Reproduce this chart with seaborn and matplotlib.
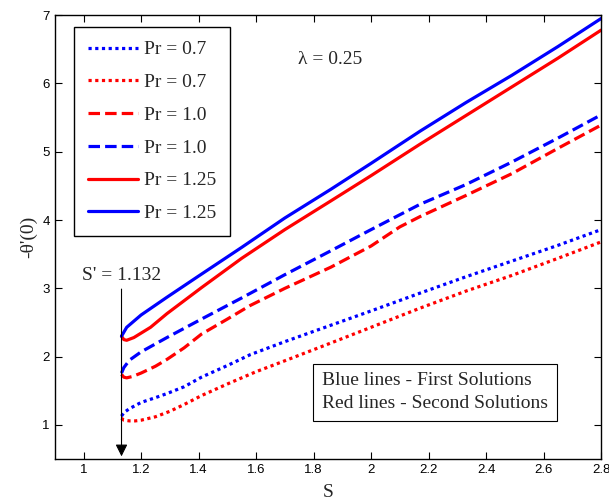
import matplotlib
matplotlib.use("Agg")
import matplotlib.pyplot as plt
import pandas as pd
import seaborn as sns

# readings (S, -theta'(0))
s_b07 = [1.132, 1.14, 1.16, 1.2, 1.25, 1.29, 1.35, 1.41, 1.5, 1.58, 1.7, 1.86, 2.0, 2.17, 2.33, 2.49, 2.65, 2.8]
v_b07 = [1.13, 1.18, 1.24, 1.33, 1.40, 1.46, 1.56, 1.70, 1.87, 2.03, 2.22, 2.46, 2.67, 2.93, 3.17, 3.40, 3.63, 3.86]

s_r07 = [1.132, 1.14, 1.16, 1.18, 1.2, 1.25, 1.3, 1.35, 1.41, 1.5, 1.6, 1.7, 1.86, 2.0, 2.17, 2.33, 2.49, 2.65, 2.8]
v_r07 = [1.10, 1.07, 1.06, 1.06, 1.07, 1.12, 1.20, 1.30, 1.43, 1.60, 1.78, 1.94, 2.20, 2.43, 2.71, 2.96, 3.19, 3.44, 3.68]

s_b10 = [1.132, 1.14, 1.16, 1.2, 1.29, 1.41, 1.55, 1.7, 1.86, 2.0, 2.17, 2.33, 2.49, 2.65, 2.8]
v_b10 = [1.76, 1.84, 1.95, 2.07, 2.28, 2.55, 2.86, 3.20, 3.55, 3.86, 4.23, 4.52, 4.85, 5.20, 5.54]

s_r10 = [1.132, 1.14, 1.15, 1.17, 1.2, 1.25, 1.29, 1.35, 1.41, 1.5, 1.58, 1.7, 1.86, 2.0, 2.1, 2.17, 2.33, 2.49, 2.65, 2.8]
v_r10 = [1.74, 1.70, 1.69, 1.71, 1.76, 1.86, 1.96, 2.13, 2.33, 2.55, 2.75, 3.00, 3.31, 3.62, 3.90, 4.05, 4.36, 4.68, 5.05, 5.39]

s_b125 = [1.132, 1.15, 1.2, 1.29, 1.4, 1.55, 1.7, 1.86, 2.0, 2.17, 2.33, 2.49, 2.65, 2.8]
v_b125 = [2.30, 2.43, 2.61, 2.87, 3.18, 3.60, 4.03, 4.45, 4.83, 5.30, 5.72, 6.12, 6.54, 6.95]

s_r125 = [1.132, 1.14, 1.15, 1.175, 1.233, 1.29, 1.41, 1.55, 1.7, 1.86, 2.0, 2.17, 2.33, 2.49, 2.65, 2.8]
v_r125 = [2.30, 2.25, 2.24, 2.28, 2.43, 2.63, 3.01, 3.44, 3.86, 4.28, 4.65, 5.11, 5.53, 5.95, 6.37, 6.78]

x_ticks = [1, 1.2, 1.4, 1.6, 1.8, 2, 2.2, 2.4, 2.6, 2.8]
x_labels = ["1", "1.2", "1.4", "1.6", "1.8", "2", "2.2", "2.4", "2.6", "2.8"]
y_ticks = [1, 2, 3, 4, 5, 6, 7]
s_crit = 1.132

sns.set_theme(style="ticks")
plt.rcParams["font.family"] = ["Liberation Sans", "DejaVu Sans"]

serif = ["Liberation Serif", "DejaVu Serif"]
dot = (0, (1, 1.1))
dash = (0, (3.6, 1.6))
series = [
    (s_b07, v_b07, "blue", dot, "Pr = 0.7"),
    (s_r07, v_r07, "red", dot, "Pr = 0.7"),
    (s_r10, v_r10, "red", dash, "Pr = 1.0"),
    (s_b10, v_b10, "blue", dash, "Pr = 1.0"),
    (s_r125, v_r125, "red", "-", "Pr = 1.25"),
    (s_b125, v_b125, "blue", "-", "Pr = 1.25"),
]

fig, ax = plt.subplots(figsize=(6.09, 5.04), dpi=100)
fig.subplots_adjust(left=0.090, right=0.987, top=0.970, bottom=0.089)

handles = []
for s_vals, v_vals, color, style, label in series:
    df = pd.DataFrame({"S": s_vals, "theta": v_vals})
    sns.lineplot(data=df, x="S", y="theta", ax=ax, color=color, lw=2.3,
                 sort=False, estimator=None, label=label)
    line = ax.lines[-1]
    line.set_linestyle(style)
    handles.append(line)

ax.set_xlim(0.9, 2.8)
ax.set_ylim(0.5, 7)
ax.set_xticks(x_ticks)
ax.set_xticklabels(x_labels)
ax.set_yticks(y_ticks)
ax.tick_params(direction="in", top=True, right=True, labelsize=9.5, length=5, width=0.8, colors="black")
for sp in ax.spines.values():
    sp.set_linewidth(1.0)
    sp.set_color("black")

ax.set_xlabel("S", fontsize=14, family=serif, labelpad=6)
ax.set_ylabel("-θ'(0)", fontsize=14, family=serif, labelpad=4)

leg = ax.legend(handles=handles, labels=[h.get_label() for h in handles], loc="upper left",
                bbox_to_anchor=(0.035, 0.973), borderaxespad=0, fancybox=False,
                edgecolor="black", framealpha=1, handlelength=2.6, labelspacing=0.78,
                borderpad=0.7, handletextpad=0.3, prop={"family": serif, "size": 14})
leg.get_frame().set_linewidth(1.0)

ax.text(1.745, 6.35, "λ = 0.25", fontsize=14, family=serif, ha="left", va="center")

ax.annotate("", xy=(s_crit, 0.5), xytext=(s_crit, 3.03),
            arrowprops=dict(arrowstyle="-|>", color="black", lw=0.8, mutation_scale=18))
ax.text(s_crit, 3.06, "S' = 1.132", fontsize=14, family=serif, ha="center", va="bottom")

ax.text(1.83, 1.48, "Blue lines - First Solutions\nRed lines - Second Solutions",
        fontsize=14, family=serif, ha="left", va="center", linespacing=1.45,
        bbox=dict(boxstyle="square,pad=0.45", facecolor="white", edgecolor="black", lw=0.8))

fig.savefig("out.png", dpi=100)
